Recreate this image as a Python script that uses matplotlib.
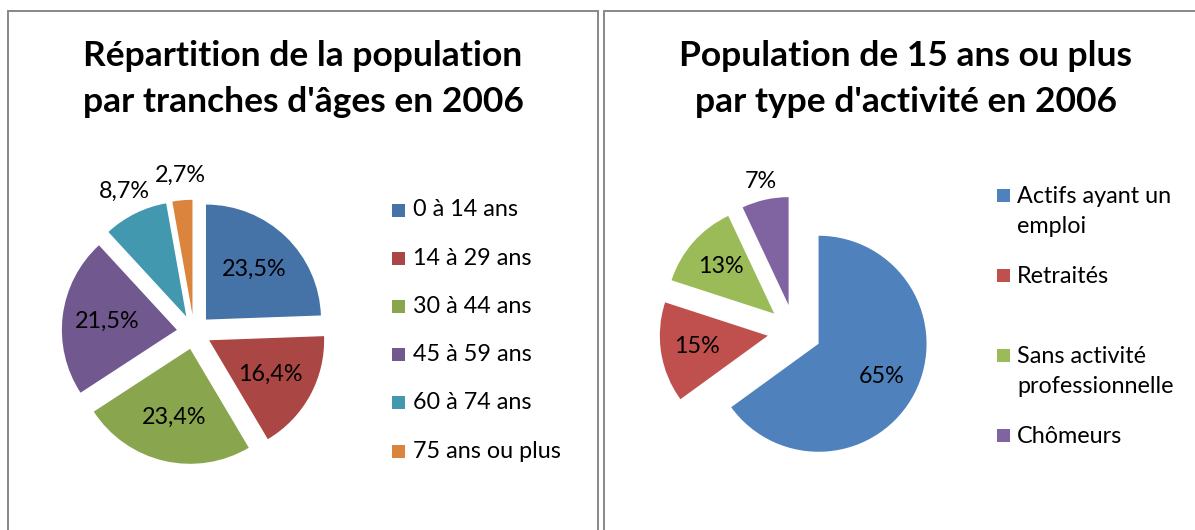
import matplotlib
matplotlib.use("Agg")
import matplotlib.pyplot as plt
from matplotlib.patches import Rectangle
import numpy as np

plt.rcParams['font.family'] = ['Lato', 'DejaVu Sans']

# ---------------- data ----------------
age_title = "Répartition de la population\npar tranches d'âges en 2006"
age_labels = ["0 à 14 ans", "14 à 29 ans", "30 à 44 ans", "45 à 59 ans",
              "60 à 74 ans", "75 ans ou plus"]
age_values = [23.5, 16.4, 23.4, 21.5, 8.7, 2.7]
age_colors = ["#4572A7", "#AA4643", "#89A54E", "#71588F", "#4198AF", "#DB843D"]

act_title = "Population de 15 ans ou plus\npar type d'activité en 2006"
act_labels = ["Actifs ayant un\nemploi", "Retraités", "Sans activité\nprofessionnelle",
              "Chômeurs"]
act_values = [65, 15, 13, 7]
act_colors = ["#4F81BD", "#C0504D", "#9BBB59", "#8064A2"]

# ---------------- figure ----------------
W, H = 1195, 530
fig = plt.figure(figsize=(W / 100, H / 100), dpi=100)
ax = fig.add_axes([0, 0, 1, 1])


def Y(y):
    return H - y


label_fs = 16.8
title_fs = 25.5


def draw_pie(values, colors, center, radius, explode, din, dout, fmt):
    wedges, _ = ax.pie(values, colors=colors, startangle=90, counterclock=False,
                       explode=[explode * radius] * len(values), radius=radius,
                       center=center, wedgeprops=dict(linewidth=0))
    for w, v in zip(wedges, values):
        mid = np.deg2rad((w.theta1 + w.theta2) / 2)
        d = dout if v < 10 else din
        cx, cy = w.center
        ax.text(cx + w.r * d * np.cos(mid), cy + w.r * d * np.sin(mid), fmt(v),
                ha='center', va='center', fontsize=label_fs, color='black')
    return wedges


draw_pie(age_values, age_colors, (194, Y(332)), 115, 0.15, 0.61, 1.22,
         lambda v: f"{v:.1f}".replace('.', ',') + '%')
draw_pie(act_values, act_colors, (794.5, Y(331.5)), 108, 0.25, 0.66, 1.17,
         lambda v: f"{v:g}%")

ax.set_xlim(0, W)
ax.set_ylim(0, H)
ax.set_aspect('auto')
ax.axis('off')

# panel borders
bc = '#878787'
ax.plot([8.5, 8.5, 598.5, 598.5], [Y(540), Y(10.5), Y(10.5), Y(540)],
        color=bc, lw=1.4, solid_joinstyle='miter')
ax.plot([604.5, 604.5, 1200], [Y(540), Y(10.5), Y(10.5)],
        color=bc, lw=1.4, solid_joinstyle='miter')

# titles
ax.text(303, Y(79), age_title, ha='center', va='center', fontsize=title_fs,
        fontweight='bold', linespacing=1.54)
ax.text(906, Y(79), act_title, ha='center', va='center', fontsize=title_fs,
        fontweight='bold', linespacing=1.54)

# legends
sq = 13
for i, (lab, col) in enumerate(zip(age_labels, age_colors)):
    yc = 210 + i * 48.2
    ax.add_patch(Rectangle((392, Y(yc) - sq / 2), sq, sq, color=col, lw=0))
    ax.text(413, Y(yc), lab, ha='left', va='center', fontsize=label_fs)

for i, (lab, col) in enumerate(zip(act_labels, act_colors)):
    yc = 195 + i * 80
    ax.add_patch(Rectangle((997, Y(yc) - sq / 2), sq, sq, color=col, lw=0))
    ax.text(1017, Y(yc) + 9, lab, ha='left', va='top', fontsize=label_fs,
            linespacing=1.55)

fig.savefig("out.png", dpi=100)
